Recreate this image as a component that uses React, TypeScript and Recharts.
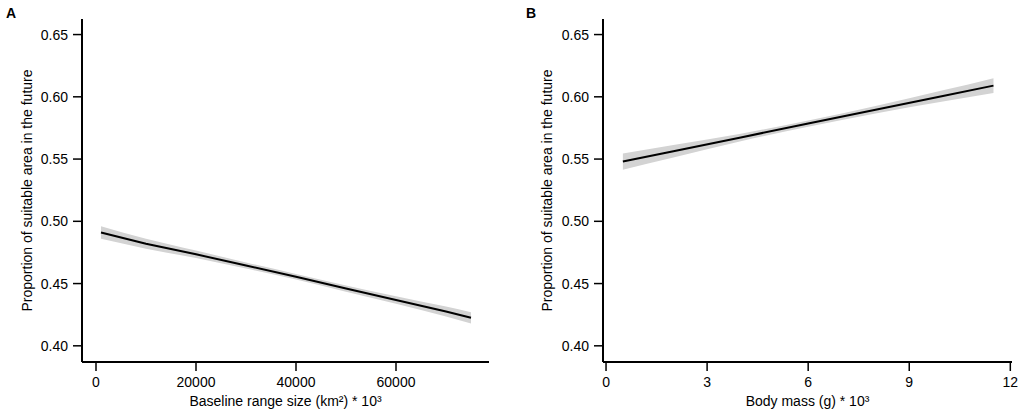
import { ComposedChart, Area, Line, XAxis, YAxis } from 'recharts'

// panel A: baseline range size
const rangeX = [1000, 10000, 20000, 30000, 40000, 50000, 60000, 70000, 75000]
const rangeFit = [0.491, 0.482, 0.4735, 0.4645, 0.4555, 0.446, 0.4368, 0.4275, 0.4225]
const rangeHalf = [0.005, 0.004, 0.003, 0.0025, 0.0022, 0.0025, 0.003, 0.004, 0.0045]
const rangeTicks = [0, 20000, 40000, 60000]

// panel B: body mass
const massX = [0.5, 2, 4, 6, 8, 10, 11.5]
const massFit = [0.548, 0.5563, 0.5674, 0.5785, 0.5896, 0.6007, 0.609]
const massHalf = [0.0065, 0.005, 0.003, 0.0025, 0.003, 0.0045, 0.006]
const massTicks = [0, 3, 6, 9, 12]

const yTicks = [0.4, 0.45, 0.5, 0.55, 0.6, 0.65]
const Y_LABEL = 'Proportion of suitable area in the future'

const FONT = 'Arial, "Liberation Sans", sans-serif'
const tickStyle = { fontSize: 14, fill: '#000', fontFamily: FONT }

function build(xs: number[], fit: number[], half: number[]) {
  return xs.map((x, i) => ({
    x,
    fit: fit[i],
    band: [fit[i] - half[i], fit[i] + half[i]],
  }))
}

interface PanelProps {
  letter: string
  data: { x: number; fit: number; band: number[] }[]
  xDomain: [number, number]
  xTicks: number[]
  xLabel: string
  width: number
  left: number
  rightMargin: number
  yWidth: number
}

function Panel({ letter, data, xDomain, xTicks, xLabel, width, left, rightMargin, yWidth }: PanelProps) {
  return (
    <div style={{ position: 'absolute', left, top: 0, width, height: 413 }}>
      <div
        style={{
          position: 'absolute',
          left: 6,
          top: 5,
          fontFamily: FONT,
          fontWeight: 'bold',
          fontSize: 14,
          lineHeight: '16px',
        }}
      >
        {letter}
      </div>
      <ComposedChart
        width={width}
        height={413}
        data={data}
        margin={{ top: 19, right: rightMargin, bottom: 0, left: 0 }}
      >
        <XAxis
          dataKey="x"
          type="number"
          domain={xDomain}
          ticks={xTicks}
          allowDataOverflow
          height={51}
          tick={tickStyle}
          tickSize={9}
          tickMargin={6}
          axisLine={{ stroke: '#000', strokeWidth: 2 }}
          tickLine={{ stroke: '#000', strokeWidth: 1.5 }}
          label={{
            value: xLabel,
            position: 'insideBottom',
            offset: 7,
            style: { fontSize: 14, fill: '#000', fontFamily: FONT },
          }}
        />
        <YAxis
          type="number"
          domain={[0.387, 0.6625]}
          ticks={yTicks}
          allowDataOverflow
          width={yWidth}
          tick={tickStyle}
          tickFormatter={v => v.toFixed(2)}
          tickSize={9}
          tickMargin={5}
          axisLine={{ stroke: '#000', strokeWidth: 2 }}
          tickLine={{ stroke: '#000', strokeWidth: 1.5 }}
          label={{
            value: Y_LABEL,
            angle: -90,
            position: 'insideLeft',
            offset: 27,
            style: { fontSize: 14, fill: '#000', fontFamily: FONT, textAnchor: 'middle' },
          }}
        />
        <Area
          type="monotone"
          dataKey="band"
          stroke="none"
          fill="#d3d3d3"
          fillOpacity={1}
          isAnimationActive={false}
        />
        <Line
          type="linear"
          dataKey="fit"
          stroke="#000"
          strokeWidth={2}
          dot={false}
          isAnimationActive={false}
        />
      </ComposedChart>
    </div>
  )
}

export default function App() {
  return (
    <div style={{ position: 'absolute', left: 0, top: 0, width: 1021, height: 413, background: '#fff' }}>
      <Panel
        letter="A"
        data={build(rangeX, rangeFit, rangeHalf)}
        xDomain={[-2800, 78600]}
        xTicks={rangeTicks}
        xLabel="Baseline range size (km²) * 10³"
        width={510}
        left={0}
        rightMargin={21}
        yWidth={82}
      />
      <Panel
        letter="B"
        data={build(massX, massFit, massHalf)}
        xDomain={[-0.09, 12.05]}
        xTicks={massTicks}
        xLabel="Body mass (g) * 10³"
        width={501}
        left={520}
        rightMargin={9}
        yWidth={83}
      />
    </div>
  )
}
